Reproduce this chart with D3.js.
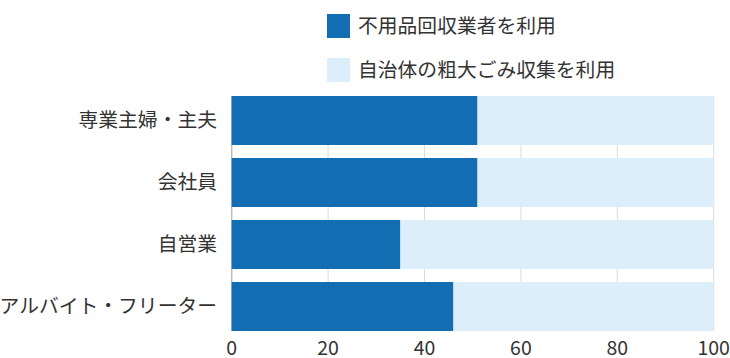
<!DOCTYPE html>
<html><head><meta charset="utf-8">
<script src="https://cdn.jsdelivr.net/npm/d3@7"></script>
<style>body{margin:0;background:#fff}svg{display:block;font-family:"Noto Sans CJK JP","Noto Sans",sans-serif}</style>
</head><body><svg id="c" width="730" height="358"></svg>
<script>
const categories = ["専業主婦・主夫","会社員","自営業","アルバイト・フリーター"];
const seriesNames = ["不用品回収業者を利用","自治体の粗大ごみ収集を利用"];
const recycler = [51,51,35,46];
const municipal = [49,49,65,54];
const ticks = [0,20,40,60,80,100];
const colors = ["#126db2","#dbeef9"];

const svg = d3.select("#c");
const x = d3.scaleLinear().domain([0,100]).range([231.7,713.7]);
const y = d3.scaleBand().domain(categories).range([89.5,337.5]).paddingInner(0.21).paddingOuter(0.105);

const g = svg.append("g");
g.selectAll("line.grid").data(ticks).join("line")
  .attr("x1",d=>x(d)).attr("x2",d=>x(d)).attr("y1",96).attr("y2",331)
  .attr("stroke",d=>d===0?"#bbb":"#dcdcdc").attr("stroke-width",d=>d===0?1.5:1);

const data = categories.map((c,i)=>({c, vals:[recycler[i],municipal[i]]}));
const stack = d3.stack().keys([0,1]).value((d,k)=>d.vals[k]);
const series = stack(data);
g.selectAll("g.s").data(series).join("g").attr("fill",(d,i)=>colors[i])
  .selectAll("rect").data(d=>d).join("rect")
  .attr("x",d=>x(d[0])).attr("width",d=>x(d[1])-x(d[0]))
  .attr("y",d=>y(d.data.c)).attr("height",y.bandwidth());

svg.selectAll("text.cat").data(categories).join("text")
  .attr("x",217).attr("y",d=>y(d)+y.bandwidth()/2).attr("dy","0.35em")
  .attr("text-anchor","end").attr("font-size",19.8).attr("fill","#333").text(d=>d);

svg.selectAll("text.tick").data(ticks).join("text")
  .attr("x",d=>x(d)).attr("y",354.5).attr("text-anchor","middle")
  .attr("font-size",19.5).attr("fill","#333").text(d=>d);

const lg = svg.append("g");
seriesNames.forEach((n,i)=>{
  const yy = 14 + i*44;
  lg.append("rect").attr("x",327).attr("y",yy).attr("width",23).attr("height",24).attr("fill",colors[i]);
  lg.append("text").attr("x",358).attr("y",yy+12).attr("dy","0.35em")
    .attr("font-size",19.8).attr("fill","#333").text(n);
});
</script></body></html>
